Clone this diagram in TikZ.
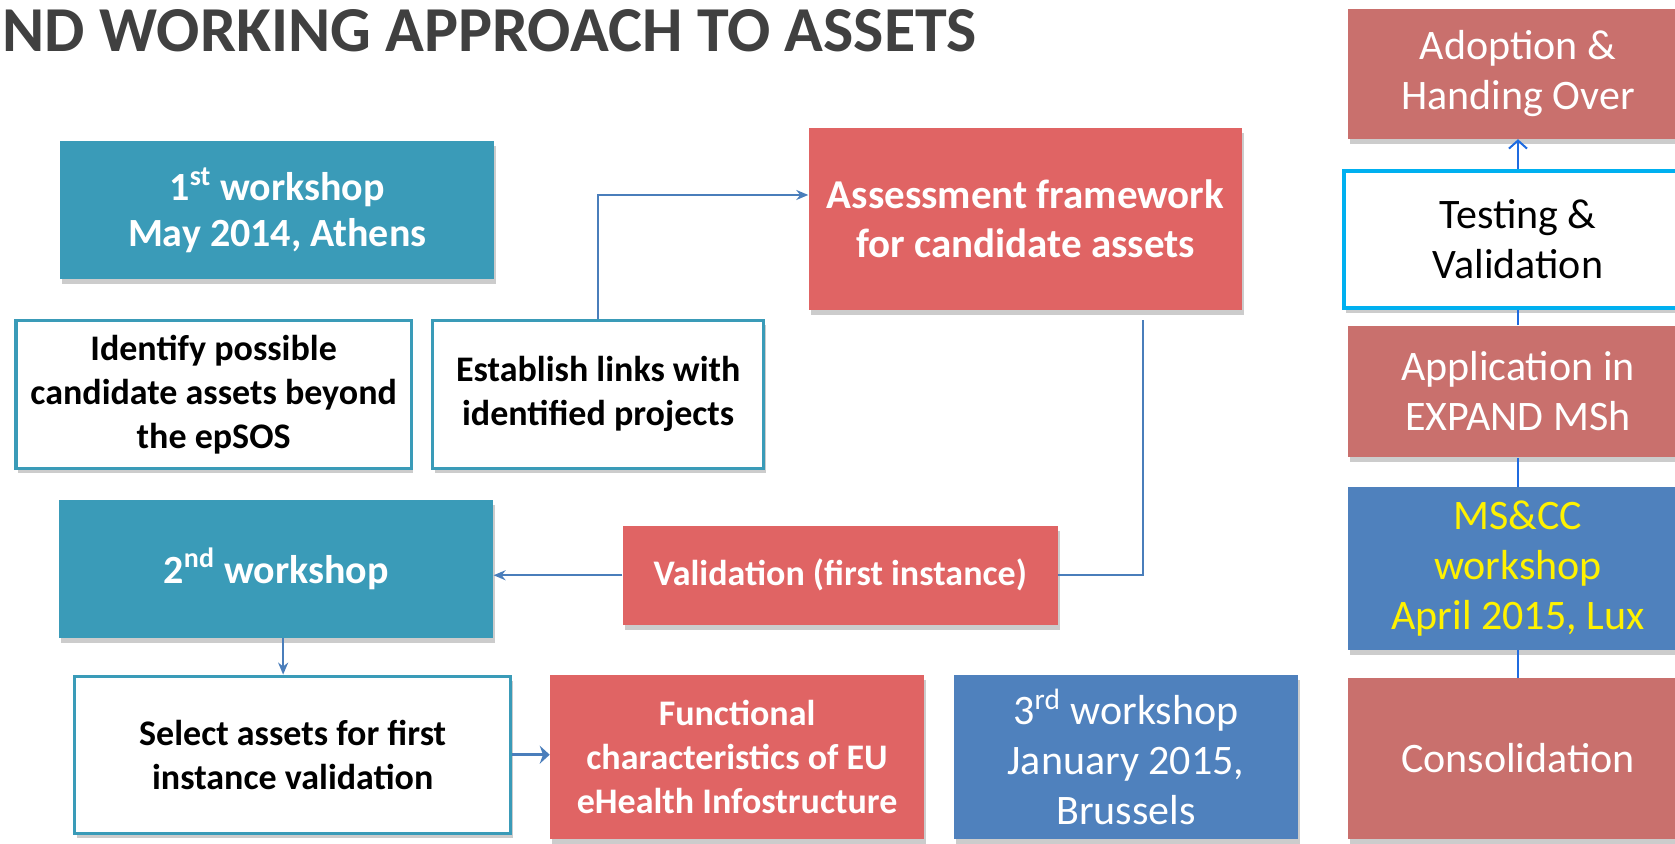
\documentclass[tikz,border=0pt]{standalone}
\usepackage{fontspec}
\setmainfont{Carlito}
\usetikzlibrary{arrows.meta, positioning, shadows}

\definecolor{meetteal}{HTML}{3A9BB8}
\definecolor{outred}{HTML}{E06464}
\definecolor{phasered}{HTML}{C9706D}
\definecolor{meetblue}{HTML}{4F81BD}
\definecolor{testcyan}{HTML}{00B0F0}
\definecolor{linkblue}{HTML}{4A7EBB}
\definecolor{phaseblue}{HTML}{1F6BE0}
\definecolor{titlegray}{HTML}{404040}

\begin{document}
\begin{tikzpicture}[
      x=0.534pt, y=-0.534pt,
      boxshadow/.style={drop shadow={shadow xshift=1pt, shadow yshift=-2.5pt, fill=black!40, opacity=0.5}},
      meet/.style={rectangle, boxshadow, fill=meetteal, text=white, align=center, font=\bfseries\fontsize{20}{23}\selectfont, minimum width=217pt, minimum height=69pt},
      task/.style={rectangle, boxshadow, draw=meetteal, line width=1.6pt, fill=white, align=center, font=\bfseries\fontsize{18}{22}\selectfont, minimum height=74pt},
      outcome/.style={rectangle, boxshadow, fill=outred, text=white, align=center, font=\bfseries\fontsize{18}{22}\selectfont},
      phase/.style={rectangle, boxshadow, fill=phasered, text=white, align=center, font=\fontsize{21}{25}\selectfont, minimum width=170pt},
      arrow/.style={-{Stealth[length=6pt, width=5pt]}, linkblue, line width=1.1pt},
      link/.style={linkblue, line width=1.1pt},
      stepline/.style={phaseblue, line width=1pt}
    ]
    \useasboundingbox (0,0) rectangle (1568,790);

    \node[anchor=base west, inner sep=0pt, text=titlegray, font=\bfseries\fontsize{32}{36}\selectfont] (title) at (2,48) {ND WORKING APPROACH TO ASSETS};

    % workshops and tasks
    \node[meet] (ws1) at (259.5,197) {1\textsuperscript{st} workshop\\May 2014, Athens};
    \node[task, minimum width=197.6pt] (ident) at (200,369) {Identify possible\\candidate assets beyond\\the epSOS};
    \node[task, minimum width=165.5pt] (links) at (560,369) {Establish links with\\identified projects};
    \node[outcome, font=\bfseries\fontsize{20.5}{24.5}\selectfont, minimum width=216.8pt, minimum height=90.8pt] (assess) at (960,205) {Assessment framework\\for candidate assets};
    \node[outcome, minimum width=217.3pt, minimum height=49.7pt] (valid) at (786.5,538.5) {Validation (first instance)};
    \node[meet] (ws2) at (258.5,532.5) {2\textsuperscript{nd} workshop};
    \node[task, minimum width=217.9pt, minimum height=78.5pt] (select) at (274,706.5) {Select assets for first\\instance validation};
    \node[outcome, minimum width=186.9pt, minimum height=81.7pt] (func) at (690,708.5) {Functional\\characteristics of EU\\eHealth Infostructure};
    \node[meet, fill=meetblue, font=\fontsize{21}{25}\selectfont, minimum width=172pt, minimum height=81.7pt] (ws3) at (1054,708.5) {3\textsuperscript{rd} workshop\\January 2015,\\Brussels};

    % phases column
    \node[phase, minimum height=65.1pt] (adopt) at (1421,69) {Adoption \&\\Handing Over};
    \node[phase, fill=white, text=black, draw=testcyan, line width=2.2pt, minimum width=174pt, minimum height=68.4pt] (test) at (1421,224) {Testing \&\\Validation};
    \node[phase, minimum height=65.7pt] (apply) at (1421,366.5) {Application in\\EXPAND MSh};
    \node[phase, fill=meetblue, text=yellow, minimum height=81.2pt] (mscc) at (1421,532) {MS\&CC\\workshop\\April 2015, Lux};
    \node[phase, minimum height=80.1pt] (consol) at (1421,710) {Consolidation};

    \draw[arrow] (links.north) |- ([yshift=12pt]assess.west);
    \draw[link] ([xshift=58.7pt, yshift=-5pt]assess.south) |- (valid.east);
    \draw[arrow] (valid.west) -- (valid.west -| ws2.east);
    \draw[arrow] ([xshift=3.5pt]ws2.south) -- ([xshift=3.5pt]ws2.south |- select.north);
    \draw[arrow, line width=1.6pt, -{Stealth[length=5pt, width=9pt]}] (select.east) -- (select.east -| func.west);

    \draw[stepline, -{Straight Barb[length=4pt, width=9pt]}] (test.north) -- (adopt.south);
    \draw[stepline] (apply.north) -- (test.south);
    \draw[stepline] (mscc.north) -- (apply.south);
    \draw[stepline] (consol.north) -- (mscc.south);
  \end{tikzpicture}
\end{document}
